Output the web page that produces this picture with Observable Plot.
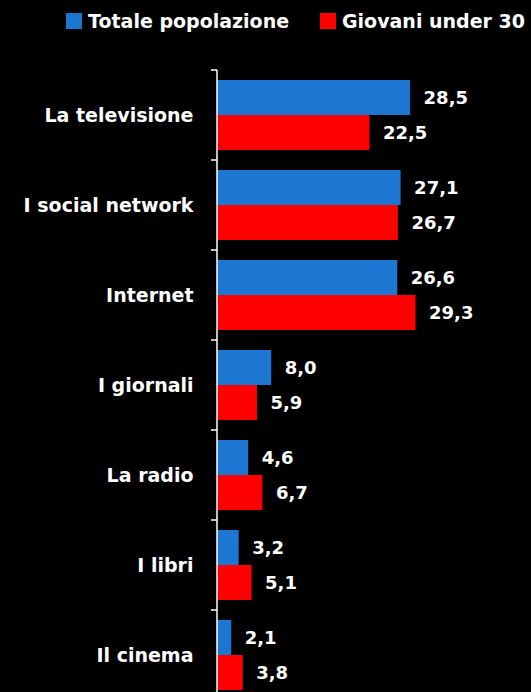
<!DOCTYPE html>
<html><head><meta charset="utf-8">
<script src="https://cdn.jsdelivr.net/npm/d3@7"></script>
<script src="https://cdn.jsdelivr.net/npm/@observablehq/plot@0.6"></script>
<style>
html,body{margin:0;padding:0;background:#000;overflow:hidden;width:531px;height:692px}
#legend{height:60px;position:relative;font-family:"DejaVu Sans",sans-serif;font-weight:bold;font-size:19px;color:#fff;white-space:nowrap}
.item{position:absolute;top:10px;display:flex;align-items:center;height:22px}
.sw{width:16px;height:16px;margin-right:6px}
#chart svg{display:block}
</style></head>
<body>
<div id="legend"></div>
<div id="chart"></div>
<script>
const categories = ["La televisione","I social network","Internet","I giornali","La radio","I libri","Il cinema"];
const series = ["Totale popolazione","Giovani under 30"];
const totale = [28.5,27.1,26.6,8.0,4.6,3.2,2.1];
const giovani = [22.5,26.7,29.3,5.9,6.7,5.1,3.8];
const colors = ["#1c76d2","#ff0000"];

const rows = [];
categories.forEach((c,i)=>{
  rows.push({category:c, series:series[0], value:totale[i]});
  rows.push({category:c, series:series[1], value:giovani[i]});
});

// legend
const legend = document.getElementById("legend");
const legendX = [66, 320];
series.forEach((s,i)=>{
  const it = document.createElement("div");
  it.className="item"; it.style.left = legendX[i]+"px";
  const sw = document.createElement("span"); sw.className="sw"; sw.style.background=colors[i];
  const t = document.createElement("span"); t.textContent = s;
  it.appendChild(sw); it.appendChild(t); legend.appendChild(it);
});

const fmt = v => v.toFixed(1).replace(".", ",");

const chart = Plot.plot({
  width: 531,
  height: 640,
  marginTop: 10,
  marginBottom: 0,
  marginLeft: 217,
  marginRight: 43,
  style: {background:"#000", color:"#fff", fontFamily:"DejaVu Sans, sans-serif", fontWeight:"bold", fontSize:"19px", overflow:"visible"},
  facet: {data: rows, y: "category", marginTop:0, marginBottom:0},
  fy: {domain: categories, paddingInner: 0, paddingOuter: 0, tickSize: 0, tickPadding: 24, label: null},
  y: {domain: series, axis: null, paddingInner: 0, paddingOuter: 0.28},
  x: {domain: [0, 40], axis: null},
  color: {domain: series, range: colors},
  marks: [
    Plot.barX(rows, {x: "value", y: "series", fill: "series"}),
    Plot.text(rows, {x: "value", y: "series", text: d => fmt(d.value), textAnchor: "start", dx: 13, fill: "#fff", fontSize: 18, fontWeight: "bold"})
  ]
});
document.getElementById("chart").appendChild(chart);

// axis line and band boundary ticks from the fy scale
const fy = chart.scale("fy");
const svg = d3.select(chart);
const g = svg.append("g").attr("stroke","#fff").attr("stroke-width",1.5);
const tops = categories.map(c => fy.apply(c));
const bottom = fy.apply(categories[categories.length-1]) + fy.bandwidth;
g.append("line").attr("x1",217).attr("x2",217).attr("y1",tops[0]).attr("y2",bottom);
tops.forEach(yy => {
  g.append("line").attr("x1",211).attr("x2",217).attr("y1",yy).attr("y2",yy);
});
</script>
</body></html>
